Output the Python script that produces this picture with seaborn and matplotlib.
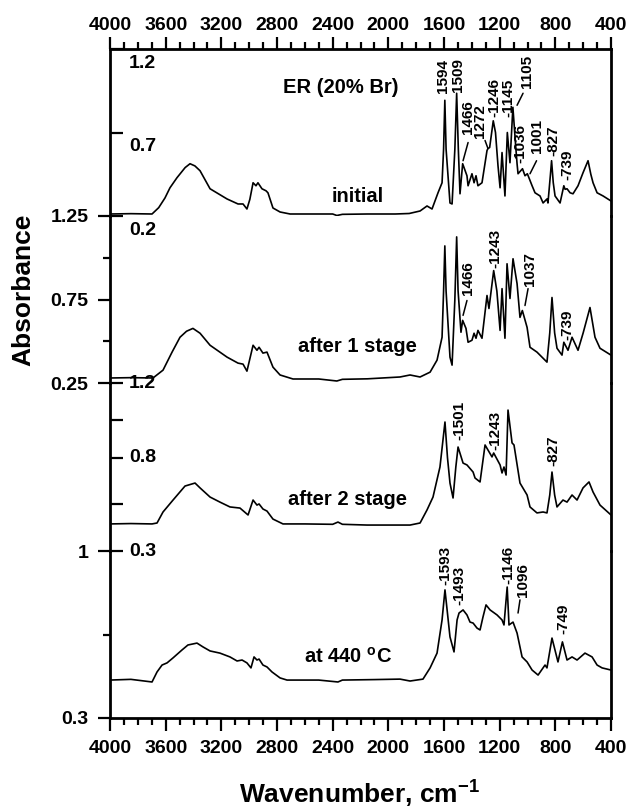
import matplotlib
matplotlib.use("Agg")
import matplotlib.pyplot as plt
from matplotlib.ticker import MultipleLocator, FixedLocator
from matplotlib.transforms import ScaledTranslation
import seaborn as sns

# ---- spectra (wavenumber, absorbance) ----
wn_initial = [4000, 3850, 3698, 3650, 3605, 3569, 3519, 3460, 3425, 3390, 3353, 3281, 3159, 3080,
              3044, 3016, 2995, 2972, 2951, 2937, 2908, 2879, 2865, 2829, 2778, 2706, 2550, 2400,
              2370, 2330, 2150, 1950, 1850, 1772, 1722, 1686, 1643, 1614, 1603, 1594, 1585, 1557,
              1542, 1522, 1509, 1497, 1485, 1466, 1435, 1427, 1399, 1384, 1370, 1356, 1327, 1291,
              1284, 1272, 1246, 1230, 1212, 1197, 1183, 1162, 1145, 1126, 1105, 1085, 1075, 1068,
              1036, 1018, 1001, 967, 946, 910, 888, 860, 853, 835, 827, 815, 802, 766, 739, 730,
              716, 694, 673, 637, 601, 565, 545, 529, 500, 457, 400]
abs_initial = [0.212, 0.214, 0.212, 0.25, 0.308, 0.369, 0.429, 0.49, 0.513, 0.50, 0.471, 0.363, 0.302, 0.272,
               0.272, 0.242, 0.30, 0.399, 0.381, 0.399, 0.363, 0.351, 0.339, 0.248, 0.224, 0.212, 0.212, 0.212,
               0.203, 0.210, 0.212, 0.212, 0.215, 0.230, 0.260, 0.242, 0.339, 0.399, 0.60, 0.893, 0.60, 0.278,
               0.272, 0.60, 0.935, 0.60, 0.333, 0.513, 0.441, 0.381, 0.453, 0.399, 0.441, 0.381, 0.399, 0.592,
               0.604, 0.610, 0.77, 0.70, 0.501, 0.369, 0.580, 0.320, 0.700, 0.519, 0.851, 0.62, 0.513, 0.453,
               0.483, 0.441, 0.453, 0.381, 0.339, 0.320, 0.278, 0.302, 0.278, 0.45, 0.531, 0.40, 0.320, 0.278, 0.381, 0.36,
               0.363, 0.339, 0.333, 0.381, 0.459, 0.531, 0.45, 0.399, 0.339, 0.320, 0.29]

wn_stage1 = [4000, 3850, 3691, 3619, 3554, 3497, 3450, 3404, 3353, 3281, 3159, 3080, 3044, 3016,
             2972, 2944, 2929, 2901, 2872, 2829, 2778, 2685, 2500, 2370, 2330, 2150, 1916, 1844,
             1772, 1700, 1650, 1614, 1603, 1594, 1585, 1557, 1542, 1522, 1509, 1499, 1478, 1466,
             1442, 1427, 1399, 1384, 1370, 1356, 1327, 1291, 1277, 1243, 1220, 1197, 1183, 1162,
             1147, 1126, 1104, 1075, 1054, 1037, 1003, 982, 932, 860, 840, 824, 805, 788, 752,
             739, 709, 680, 637, 600, 551, 515, 479, 400]
abs_stage1 = [0.280, 0.282, 0.280, 0.327, 0.435, 0.524, 0.56, 0.577, 0.548, 0.476, 0.405, 0.369, 0.363, 0.321,
              0.476, 0.446, 0.464, 0.429, 0.435, 0.345, 0.298, 0.274, 0.274, 0.262, 0.272, 0.275, 0.286, 0.298,
              0.286, 0.315, 0.387, 0.524, 0.80, 1.071, 0.80, 0.405, 0.357, 0.75, 1.125, 0.804, 0.554, 0.625,
              0.577, 0.494, 0.506, 0.548, 0.518, 0.565, 0.518, 0.774, 0.696, 0.923, 0.80, 0.565, 0.815, 0.518,
              0.964, 0.756, 0.994, 0.845, 0.643, 0.684, 0.583, 0.464, 0.435, 0.375, 0.55, 0.762, 0.55, 0.458, 0.417,
              0.494, 0.446, 0.524, 0.446, 0.55, 0.702, 0.524, 0.458, 0.417]

wn_stage2 = [4000, 3850, 3698, 3662, 3619, 3547, 3461, 3389, 3353, 3281, 3210, 3138, 3066, 3008,
             2972, 2944, 2929, 2901, 2872, 2829, 2757, 2600, 2400, 2362, 2330, 2153, 1844, 1772,
             1722, 1679, 1629, 1593, 1575, 1557, 1535, 1515, 1499, 1463, 1435, 1391, 1377, 1341,
             1305, 1284, 1255, 1243, 1197, 1183, 1169, 1154, 1140, 1111, 1097, 1054, 1003, 982,
             932, 888, 860, 840, 824, 805, 788, 745, 716, 680, 644, 601, 558, 529, 479, 400]
abs_stage2 = [0.445, 0.447, 0.445, 0.450, 0.509, 0.573, 0.648, 0.664, 0.638, 0.589, 0.562, 0.536, 0.530, 0.493,
              0.573, 0.546, 0.552, 0.525, 0.514, 0.471, 0.445, 0.445, 0.443, 0.455, 0.443, 0.439, 0.439, 0.450,
              0.520, 0.589, 0.750, 0.991, 0.80, 0.664, 0.584, 0.75, 0.857, 0.771, 0.761, 0.723, 0.691, 0.670,
              0.868, 0.841, 0.804, 0.825, 0.761, 0.718, 0.750, 0.707, 1.055, 0.879, 0.868, 0.664, 0.600, 0.536,
              0.504, 0.509, 0.504, 0.60, 0.723, 0.60, 0.536, 0.573, 0.562, 0.600, 0.573, 0.638, 0.670, 0.616, 0.546, 0.493]

wn_440 = [4000, 3850, 3698, 3662, 3626, 3590, 3547, 3483, 3440, 3375, 3332, 3281, 3210, 3138,
          3087, 3051, 3016, 2987, 2965, 2944, 2929, 2901, 2872, 2836, 2778, 2728, 2500, 2362,
          2330, 2100, 1916, 1844, 1751, 1700, 1650, 1614, 1593, 1557, 1528, 1506, 1492, 1463,
          1435, 1413, 1391, 1363, 1341, 1320, 1298, 1269, 1219, 1183, 1169, 1146, 1133, 1104,
          1075, 1039, 1003, 967, 924, 874, 860, 824, 781, 749, 716, 680, 644, 587, 536, 500,
          464, 400]
abs_440 = [0.459, 0.462, 0.451, 0.493, 0.522, 0.531, 0.552, 0.585, 0.606, 0.614, 0.598, 0.581, 0.572, 0.556,
           0.539, 0.543, 0.531, 0.510, 0.556, 0.543, 0.547, 0.522, 0.514, 0.493, 0.468, 0.459, 0.459, 0.451,
           0.459, 0.461, 0.463, 0.455, 0.463, 0.510, 0.572, 0.711, 0.837, 0.640, 0.577, 0.711, 0.740, 0.753,
           0.732, 0.702, 0.698, 0.677, 0.669, 0.723, 0.774, 0.753, 0.732, 0.711, 0.690, 0.849, 0.690, 0.702,
           0.656, 0.556, 0.535, 0.501, 0.480, 0.522, 0.510, 0.635, 0.535, 0.619, 0.543, 0.556, 0.543, 0.572, 0.556, 0.522,
           0.510, 0.501]

# peak labels: (text, wavenumber, absorbance at bottom of text)
peaks_initial = [("1594", 1607, 0.935), ("1509", 1499, 0.941), ("1466", 1430, 0.694),
                 ("1272", 1338, 0.670), ("-1246", 1240, 0.790), ("-1145", 1140, 0.790),
                 ("1105", 1003, 0.965), ("-1036", 1054, 0.519), ("1001", 932, 0.580),
                 ("-827", 817, 0.561), ("-739", 716, 0.417)]
leaders_initial = [((1427, 1463), (0.640, 0.531)), ((1305, 1284), (0.652, 0.604)),
                   ((1032, 1075), (0.935, 0.863)), ((935, 982), (0.531, 0.453))]
peaks_stage1 = [("1466", 1427, 0.774), ("-1243", 1233, 0.940), ("1037", 982, 0.833), ("-739", 716, 0.506)]
leaders_stage1 = [((1435, 1463), (0.744, 0.655)), ((996, 1018), (0.815, 0.714))]
peaks_stage2 = [("-1501", 1492, 0.895), ("-1243", 1233, 0.841), ("-827", 817, 0.755)]
leaders_stage2 = []
peaks_440 = [("-1593", 1593, 0.858), ("-1493", 1492, 0.774), ("-1146", 1140, 0.862),
             ("1096", 1032, 0.807), ("-749", 745, 0.652)]
leaders_440 = [((1054, 1068), (0.795, 0.740))]

# sample names: (text, wavenumber, absorbance at baseline)
names_initial = [("ER (20% Br)", 2340, 0.935), ("initial", 2218, 0.281)]
names_stage1 = [("after 1 stage", 2225, 0.435)]
names_stage2 = [("after 2 stage", 2290, 0.546)]
names_440 = [("at 440 $^{o}$C", 2290, 0.531)]

# y scales of the four stacked panels
ylims = [(0.2, 1.2), (0.25, 1.25), (0.3, 1.2), (0.3, 1.0)]
yticks = [[0.2, 0.7, 1.2], [0.25, 0.75, 1.25], [0.3, 0.8, 1.2], [0.3, 1.0]]
yticklabels = [["0.2", "0.7", "1.2"], ["0.25", "0.75", "1.25"], ["0.3", "0.8", "1.2"], ["0.3", "1"]]
yminor = [[], [0.5, 1.0], [0.55, 1.0], [0.65]]

sns.set_theme(style="ticks")
plt.rcParams['font.family'] = ['Liberation Sans', 'DejaVu Sans']
plt.rcParams['font.weight'] = 'bold'
plt.rcParams['mathtext.fontset'] = 'custom'
plt.rcParams['mathtext.rm'] = 'Liberation Sans:bold'
plt.rcParams['mathtext.bf'] = 'Liberation Sans:bold'
plt.rcParams['mathtext.default'] = 'rm'
plt.rcParams['axes.linewidth'] = 2.0
plt.rcParams['axes.edgecolor'] = 'black'
plt.rcParams['xtick.color'] = 'black'
plt.rcParams['ytick.color'] = 'black'
plt.rcParams['text.color'] = 'black'

fig = plt.figure(figsize=(6.31, 8.11), dpi=100)
W, H = 631, 811
x0, x1 = 110, 611
edges = [49, 216, 383, 551, 718]

spectra = [(wn_initial, abs_initial), (wn_stage1, abs_stage1), (wn_stage2, abs_stage2), (wn_440, abs_440)]
peaks = [peaks_initial, peaks_stage1, peaks_stage2, peaks_440]
leaders = [leaders_initial, leaders_stage1, leaders_stage2, leaders_440]
names = [names_initial, names_stage1, names_stage2, names_440]

axes = []
for i in range(4):
    bot = 1 - edges[i + 1] / H
    top = 1 - edges[i] / H
    ax = fig.add_axes([x0 / W, bot, (x1 - x0) / W, top - bot],
                      sharex=axes[0] if axes else None)
    ax.set_facecolor('none')
    axes.append(ax)

    wn, ab = spectra[i]
    sns.lineplot(x=wn, y=ab, ax=ax, color='black', linewidth=1.2, sort=False, estimator=None)
    ax.set_ylim(*ylims[i])
    ax.set_xlabel('')
    ax.set_ylabel('')

    inner = i in (0, 2)
    if inner:
        ax.tick_params(axis='y', which='both', direction='in', pad=-13.7, labelsize=14,
                       length=9, width=1.6)
    else:
        ax.tick_params(axis='y', which='major', direction='out', pad=6.5, labelsize=14,
                       length=9, width=1.6)
        ax.tick_params(axis='y', which='minor', direction='out', length=5, width=1.6)
    ax.yaxis.set_minor_locator(FixedLocator(yminor[i]))
    if inner:
        ax.set_yticks(yticks[i], yticklabels[i], ha='left', va='top' if i == 0 else 'center')
    else:
        ax.set_yticks(yticks[i], yticklabels[i])
    ax.tick_params(axis='y', which='both', right=False)
    if i == 0:
        # labels of the top trace sit a little below their ticks
        shift = ScaledTranslation(0, -4 / 72, fig.dpi_scale_trans)
        for lab in ax.get_yticklabels():
            lab.set_transform(lab.get_transform() + shift)

    ax.spines['top'].set_visible(i == 0)
    ax.spines['bottom'].set_visible(i == 3)

    for txt, x, y in peaks[i]:
        ax.text(x, y, txt, rotation=90, ha='center', va='bottom', fontsize=11,
                fontweight='bold', clip_on=False)
    for xs, ys in leaders[i]:
        ax.plot(xs, ys, color='black', linewidth=1.1, clip_on=False)
    for txt, x, y in names[i]:
        ax.text(x, y, txt, ha='center', va='baseline', fontsize=14.5, fontweight='bold')

axes[0].set_xlim(4000, 400)
axes[0].xaxis.set_major_locator(MultipleLocator(400))
axes[0].xaxis.set_minor_locator(MultipleLocator(100))
for i, ax in enumerate(axes):
    ax.tick_params(axis='x', which='both', bottom=False, top=False,
                   labelbottom=False, labeltop=False)
axes[0].tick_params(axis='x', which='both', top=True, labeltop=True, direction='out')
axes[0].tick_params(axis='x', which='major', length=9, width=1.6, pad=2, labelsize=14)
axes[0].tick_params(axis='x', which='minor', length=5, width=1.6)
axes[3].tick_params(axis='x', which='both', bottom=True, labelbottom=True, direction='out')
axes[3].tick_params(axis='x', which='major', length=9, width=1.6, pad=6.5, labelsize=14)
axes[3].tick_params(axis='x', which='minor', length=5, width=1.6)

fig.text(23 / W, 1 - 290 / H, "Absorbance", rotation=90, ha='center', va='center',
         fontsize=19, fontweight='bold')
fig.text(360 / W, 1 - 804 / H, "Wavenumber, cm$^{-1}$", ha='center', va='baseline',
         fontsize=19, fontweight='bold')

fig.savefig("out.png", dpi=100)
